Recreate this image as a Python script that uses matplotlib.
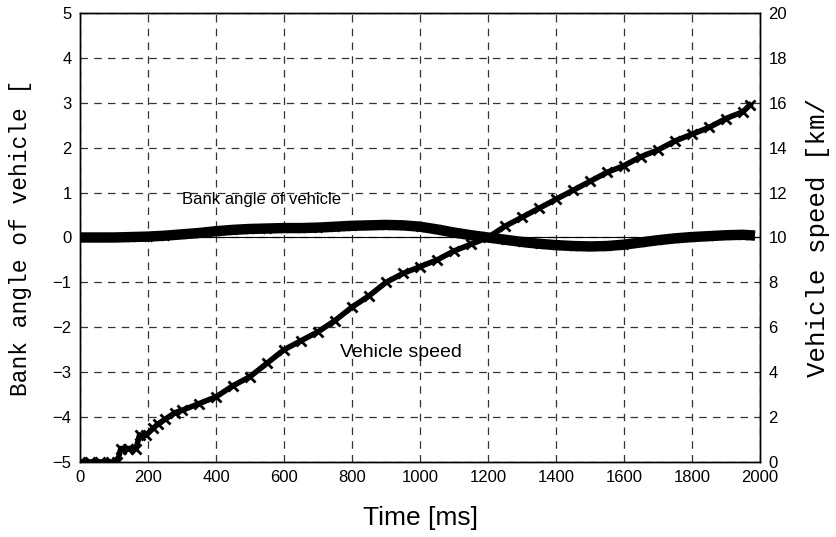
import matplotlib
matplotlib.use("Agg")
import matplotlib.pyplot as plt

# bank angle of vehicle [deg] (left axis)
bank_t = [0, 50, 100, 150, 200, 250, 300, 350, 400, 450, 500, 550, 600, 650, 700, 750,
          800, 850, 900, 950, 1000, 1050, 1100, 1150, 1200, 1250, 1300, 1350, 1400, 1450,
          1500, 1550, 1600, 1650, 1700, 1750, 1800, 1850, 1900, 1950, 1970]
bank = [0.0, 0.0, 0.0, 0.01, 0.02, 0.04, 0.07, 0.10, 0.14, 0.17, 0.19, 0.20, 0.21, 0.21,
        0.22, 0.24, 0.26, 0.27, 0.28, 0.27, 0.24, 0.18, 0.11, 0.05, 0.0, -0.05, -0.10,
        -0.14, -0.17, -0.19, -0.20, -0.19, -0.16, -0.11, -0.06, -0.02, 0.01, 0.03, 0.05,
        0.06, 0.05]

# vehicle speed [km/h] (right axis)
speed_t = [0, 30, 60, 90, 110, 120, 140, 165, 175, 195, 215, 230, 250, 280, 300, 350, 400,
           450, 500, 550, 600, 650, 700, 750, 800, 850, 900, 950, 1000, 1050, 1100, 1150,
           1200, 1250, 1300, 1350, 1400, 1450, 1500, 1550, 1600, 1650, 1700, 1750, 1800,
           1850, 1900, 1950, 1970]
speed = [0.0, 0.0, 0.0, 0.0, 0.0, 0.6, 0.6, 0.6, 1.2, 1.2, 1.5, 1.7, 1.9, 2.2, 2.3, 2.6,
         2.9, 3.4, 3.8, 4.4, 5.0, 5.4, 5.8, 6.3, 6.9, 7.4, 8.0, 8.4, 8.7, 9.0, 9.4, 9.7,
         10.0, 10.5, 10.9, 11.3, 11.7, 12.1, 12.5, 12.9, 13.2, 13.6, 13.9, 14.3, 14.6,
         14.9, 15.3, 15.6, 15.9]

sans = ["Liberation Sans", "DejaVu Sans"]
mono = ["Liberation Mono", "DejaVu Sans Mono"]

fig = plt.figure(figsize=(8.37, 5.37), dpi=100)
ax = fig.add_axes([0.0956, 0.1397, 0.8124, 0.8361])
ax2 = ax.twinx()

ax.axhline(0, color="black", lw=0.8, zorder=2)
ax.plot(bank_t, bank, color="black", lw=7.5, marker="x", ms=6, mew=2, zorder=4)
ax2.plot(speed_t, speed, color="black", lw=4, marker="x", ms=6.5, mew=2, zorder=4)

ax.set_xlim(0, 2000)
ax.set_ylim(-5, 5)
ax2.set_ylim(0, 20)
ax.set_xticks(range(0, 2001, 200))
ax.set_yticks(range(-5, 6))
ax2.set_yticks(range(0, 21, 2))
ax.set_yticklabels([str(v).replace("-", "\u2212") for v in range(-5, 6)])

ax.grid(True, color="#333333", lw=0.9, linestyle=(0, (6, 5)))
ax.set_axisbelow(True)
for a in (ax, ax2):
    a.tick_params(length=0, labelsize=12, pad=6)
    for lab in a.get_xticklabels() + a.get_yticklabels():
        lab.set_family(sans)
    for s in a.spines.values():
        s.set_linewidth(1.0)

ax.set_xlabel("Time [ms]", family=sans, fontsize=19, labelpad=15)
ax.set_ylabel("Bank angle of vehicle [", family=mono, fontsize=16.5, labelpad=15)
ax2.set_ylabel("Vehicle speed [km/", family=mono, fontsize=18.5, labelpad=14)

ax.text(300, 0.84, "Bank angle of vehicle", family=sans, fontsize=12, va="center")
ax.text(765, -2.57, "Vehicle speed", family=sans, fontsize=14, va="center")

fig.savefig("out.png", dpi=100)
